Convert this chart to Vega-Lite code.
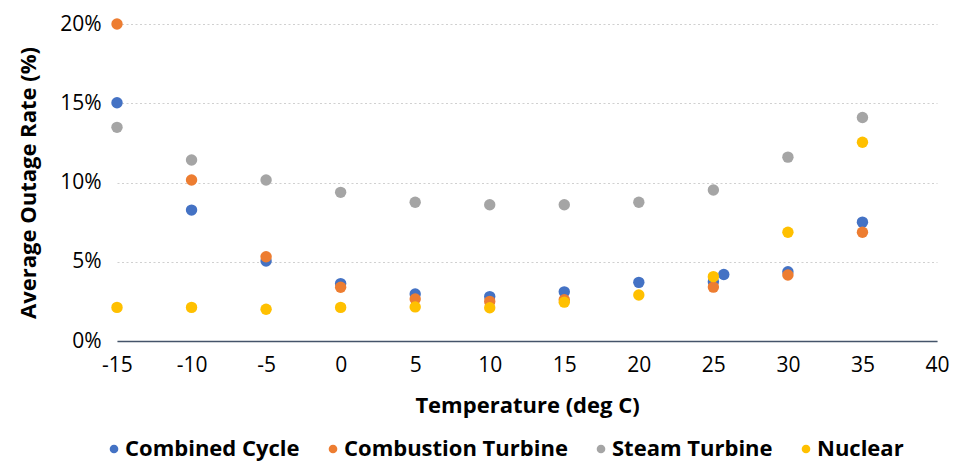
{
  "$schema": "https://vega.github.io/schema/vega-lite/v6.json",
  "width": 820,
  "height": 317,
  "autosize": {"type": "none"},
  "padding": {"left": 117, "top": 24, "right": 30, "bottom": 121},
  "background": "white",
  "config": {
    "view": {"stroke": null},
    "font": "Open Sans"
  },
  "data": {
    "values": [
      {"t": -15, "rate": 0.1503, "series": "Combined Cycle"},
      {"t": -10, "rate": 0.0826, "series": "Combined Cycle"},
      {"t": -5, "rate": 0.0505, "series": "Combined Cycle"},
      {"t": 0, "rate": 0.0362, "series": "Combined Cycle"},
      {"t": 5, "rate": 0.0297, "series": "Combined Cycle"},
      {"t": 10, "rate": 0.028, "series": "Combined Cycle"},
      {"t": 15, "rate": 0.031, "series": "Combined Cycle"},
      {"t": 20, "rate": 0.037, "series": "Combined Cycle"},
      {"t": 25, "rate": 0.0374, "series": "Combined Cycle"},
      {"t": 25.7, "rate": 0.042, "series": "Combined Cycle"},
      {"t": 30, "rate": 0.0437, "series": "Combined Cycle"},
      {"t": 35, "rate": 0.075, "series": "Combined Cycle"},
      {"t": -15, "rate": 0.2, "series": "Combustion Turbine"},
      {"t": -10, "rate": 0.1016, "series": "Combustion Turbine"},
      {"t": -5, "rate": 0.0532, "series": "Combustion Turbine"},
      {"t": 0, "rate": 0.0339, "series": "Combustion Turbine"},
      {"t": 5, "rate": 0.0265, "series": "Combustion Turbine"},
      {"t": 10, "rate": 0.025, "series": "Combustion Turbine"},
      {"t": 15, "rate": 0.026, "series": "Combustion Turbine"},
      {"t": 25, "rate": 0.034, "series": "Combustion Turbine"},
      {"t": 30, "rate": 0.0416, "series": "Combustion Turbine"},
      {"t": 35, "rate": 0.0686, "series": "Combustion Turbine"},
      {"t": -15, "rate": 0.1348, "series": "Steam Turbine"},
      {"t": -10, "rate": 0.1142, "series": "Steam Turbine"},
      {"t": -5, "rate": 0.1016, "series": "Steam Turbine"},
      {"t": 0, "rate": 0.0938, "series": "Steam Turbine"},
      {"t": 5, "rate": 0.0875, "series": "Steam Turbine"},
      {"t": 10, "rate": 0.086, "series": "Steam Turbine"},
      {"t": 15, "rate": 0.086, "series": "Steam Turbine"},
      {"t": 20, "rate": 0.0875, "series": "Steam Turbine"},
      {"t": 25, "rate": 0.0953, "series": "Steam Turbine"},
      {"t": 30, "rate": 0.116, "series": "Steam Turbine"},
      {"t": 35, "rate": 0.141, "series": "Steam Turbine"},
      {"t": -15, "rate": 0.0212, "series": "Nuclear"},
      {"t": -10, "rate": 0.0212, "series": "Nuclear"},
      {"t": -5, "rate": 0.02, "series": "Nuclear"},
      {"t": 0, "rate": 0.0212, "series": "Nuclear"},
      {"t": 5, "rate": 0.0215, "series": "Nuclear"},
      {"t": 10, "rate": 0.021, "series": "Nuclear"},
      {"t": 15, "rate": 0.0245, "series": "Nuclear"},
      {"t": 20, "rate": 0.029, "series": "Nuclear"},
      {"t": 25, "rate": 0.0406, "series": "Nuclear"},
      {"t": 30, "rate": 0.0686, "series": "Nuclear"},
      {"t": 35, "rate": 0.1254, "series": "Nuclear"}
    ]
  },
  "mark": {"type": "point", "filled": true, "opacity": 1, "size": 130},
  "encoding": {
    "x": {
      "field": "t",
      "type": "quantitative",
      "scale": {"domain": [-15, 40], "nice": false, "zero": false},
      "axis": {
        "title": "Temperature (deg C)",
        "values": [-15, -10, -5, 0, 5, 10, 15, 20, 25, 30, 35, 40],
        "labelExpr": "'' + datum.value",
        "labelFlush": false,
        "grid": false,
        "ticks": false,
        "domainColor": "#44546A",
        "domainWidth": 1.5,
        "labelFontSize": 21,
        "labelColor": "#000000",
        "labelPadding": 13,
        "titleFontSize": 22,
        "titleFontWeight": "bold",
        "titleColor": "#000000",
        "titlePadding": 20
      }
    },
    "y": {
      "field": "rate",
      "type": "quantitative",
      "scale": {"domain": [0, 0.2], "nice": false},
      "axis": {
        "title": "Average Outage Rate (%)",
        "format": ".0%",
        "values": [0, 0.05, 0.1, 0.15, 0.2],
        "domain": false,
        "ticks": false,
        "gridColor": "#d0d0d0",
        "gridDash": [2, 2.5],
        "gridWidth": 1.2,
        "labelFontSize": 21,
        "labelColor": "#000000",
        "labelPadding": 16,
        "titleFontSize": 22,
        "titleFontWeight": "bold",
        "titleColor": "#000000",
        "titlePadding": 19
      }
    },
    "color": {
      "field": "series",
      "type": "nominal",
      "sort": ["Combined Cycle", "Combustion Turbine", "Steam Turbine", "Nuclear"],
      "scale": {
        "domain": ["Combined Cycle", "Combustion Turbine", "Steam Turbine", "Nuclear"],
        "range": ["#4472C4", "#ED7D31", "#A5A5A5", "#FFC000"]
      },
      "legend": {
        "title": null,
        "orient": "none",
        "direction": "horizontal",
        "legendX": -14,
        "legendY": 414,
        "symbolType": "circle",
        "symbolSize": 75,
        "labelFontSize": 22,
        "labelFontWeight": "bold",
        "labelColor": "#000000",
        "labelOffset": 0,
        "labelLimit": 0,
        "columnPadding": 22
      }
    }
  }
}
